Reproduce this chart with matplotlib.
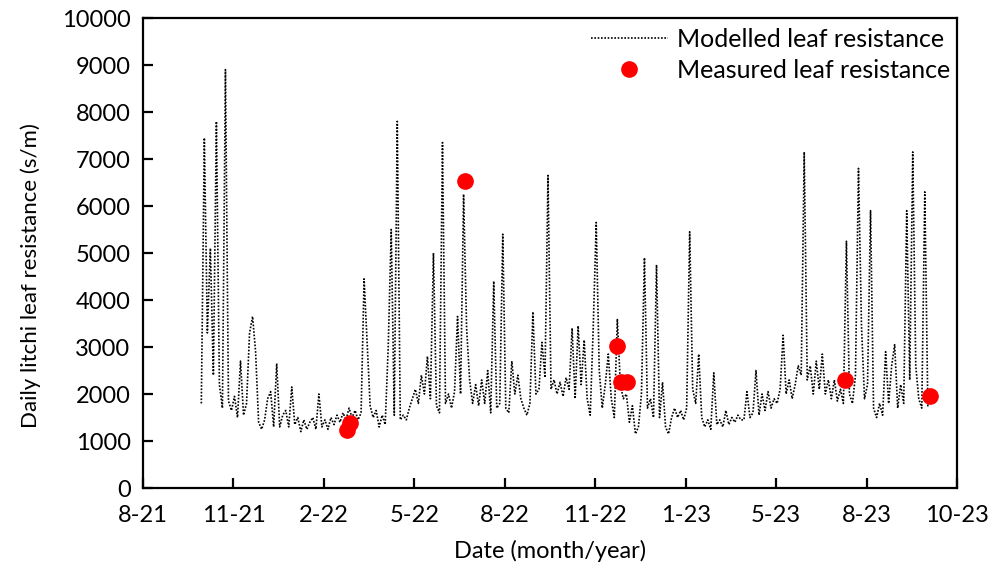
import numpy as np
import matplotlib.pyplot as plt

plt.rcParams['font.family'] = ['Lato', 'DejaVu Sans']

# modelled daily leaf resistance (s/m), one value every 3 days from day 58
modelled = [
    1800, 7450, 3300, 5100, 2400, 7800, 2200, 1700, 8900, 1850,
    1650, 1950, 1500, 2700, 1550, 1800, 3300, 3650, 2900, 1400,
    1250, 1450, 1900, 2050, 1300, 2650, 1300, 1550, 1650, 1300,
    2150, 1350, 1500, 1200, 1450, 1250, 1400, 1500, 1250, 2000,
    1300, 1450, 1250, 1500, 1350, 1550, 1400, 1600, 1450, 1700,
    1500, 1650, 1450, 1600, 4450, 3100, 1750, 1500, 1650, 1300,
    1550, 1350, 3000, 5500, 1550, 7800, 1450, 1550, 1450, 1700,
    1900, 2100, 1800, 2400, 2000, 2800, 1900, 5000, 1750, 1600,
    7350, 1800, 2000, 1700, 2050, 3650, 2000, 6250, 3400, 2300,
    1800, 2200, 1750, 2300, 1800, 2500, 1600, 4400, 1700, 1800,
    5400, 1700, 1600, 2700, 2000, 2400, 1900, 1700, 1550, 1800,
    3750, 2000, 2100, 3100, 2350, 6650, 2100, 2300, 2000, 2250,
    1950, 2350, 2100, 3400, 1900, 3450, 2200, 3150, 1900, 1550,
    3400, 5650, 2500, 1700, 2200, 2850, 1900, 1500, 3600, 2200,
    1900, 2000, 1400, 1750, 1150, 1300, 2000, 4900, 1700, 1900,
    1500, 4750, 1500, 2250, 1300, 1150, 1500, 1700, 1500, 1650,
    1450, 1700, 5450, 2100, 1800, 2850, 1500, 1300, 1450, 1250,
    2450, 1350, 1450, 1300, 1650, 1350, 1500, 1400, 1550, 1450,
    1450, 2050, 1500, 1600, 2500, 1550, 2000, 1650, 2050, 1700,
    1900, 1800, 2100, 3250, 2000, 2300, 1900, 2200, 2600, 2400,
    7150, 2300, 2600, 2000, 2700, 2100, 2850, 2000, 2300, 1900,
    2300, 1850, 2100, 1800, 5250, 2000, 1800, 2400, 6800, 3450,
    1900, 2200, 5900, 1700, 1500, 1800, 1550, 2900, 1800, 2600,
    3050, 1700, 2200, 1800, 5900, 2300, 7150, 2600, 1900, 1700,
    6300, 1750, 1900,
]
start_day = 58
step_days = 3

# measured points
measured_days = [203, 206, 320, 472, 476, 482, 699, 783]
measured = [1230, 1380, 6530, 3020, 2255, 2255, 2300, 1960]

tick_labels = ['8-21', '11-21', '2-22', '5-22', '8-22', '11-22', '1-23', '5-23', '8-23', '10-23']
tick_days = [0, 90, 180, 270, 360, 450, 540, 630, 720, 810]

days = start_day + step_days * np.arange(len(modelled))

fig = plt.figure(figsize=(10.01, 5.77), dpi=100)
ax = fig.add_axes([0.1429, 0.1542, 0.8131, 0.8146])

ax.plot(days, modelled, color='black', linestyle=(0, (1, 1)), linewidth=1.2,
        label='Modelled leaf resistance')
ax.plot(measured_days, measured, 'o', color='#ff0000', markersize=11,
        linestyle='none', label='Measured leaf resistance')

ax.set_xlim(0, 810)
ax.set_ylim(0, 10000)
ax.set_xticks(tick_days)
ax.set_xticklabels(tick_labels)
ax.set_yticks(np.arange(0, 10001, 1000))

for s in ax.spines.values():
    s.set_linewidth(1.6)
ax.tick_params(direction='in', length=7, width=1.6, labelsize=17, pad=9)
ax.tick_params(axis='x', pad=12)

ax.set_xlabel('Date (month/year)', fontsize=17, labelpad=10)
ax.set_ylabel('Daily litchi leaf resistance (s/m)', fontsize=16)
ax.yaxis.set_label_coords(-0.125, 0.451)

ax.legend(loc='upper right', bbox_to_anchor=(1.004, 1.0), frameon=False, fontsize=18,
          handlelength=3.1, handletextpad=0.35, borderaxespad=0.0, labelspacing=0.32)

fig.savefig('out.png', dpi=100)
